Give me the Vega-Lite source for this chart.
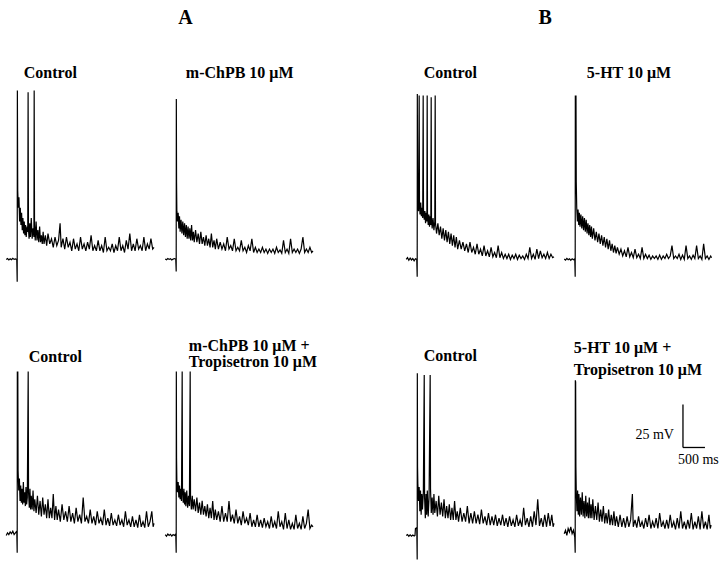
{
  "$schema": "https://vega.github.io/schema/vega-lite/v6.json",
  "background": "white",
  "padding": {"left": 3, "top": 8, "right": 0, "bottom": 0},
  "config": {
    "view": {"stroke": null},
    "title": {"font": "Liberation Serif", "fontWeight": "bold", "color": "#000", "fontSize": 16, "anchor": "start", "baseline": "alphabetic"},
    "line": {"color": "#000", "strokeWidth": 1.2}
  },
  "datasets": {
    "a1": [{"t":-250,"v":0},{"t":-220,"v":0.5},{"t":-190,"v":-0.3},{"t":-160,"v":0.4},{"t":-130,"v":-0.2},{"t":-100,"v":0.6},{"t":-70,"v":0},{"t":-40,"v":0.3},{"t":-10,"v":0},{"t":0,"v":-13},{"t":4,"v":98},{"t":12,"v":40},{"t":25,"v":30},{"t":40,"v":36},{"t":55,"v":22},{"t":70,"v":30},{"t":85,"v":20},{"t":100,"v":27},{"t":115,"v":17},{"t":130,"v":24},{"t":145,"v":15},{"t":160,"v":22},{"t":175,"v":14},{"t":190,"v":20},{"t":205,"v":13},{"t":225,"v":19},{"t":240,"v":16},{"t":248,"v":97},{"t":256,"v":18},{"t":270,"v":12},{"t":285,"v":21},{"t":300,"v":13},{"t":320,"v":24},{"t":340,"v":12},{"t":360,"v":18},{"t":380,"v":13},{"t":386,"v":98},{"t":394,"v":20},{"t":410,"v":11},{"t":430,"v":22},{"t":450,"v":11},{"t":470,"v":17},{"t":490,"v":10},{"t":510,"v":19},{"t":530,"v":10},{"t":550,"v":14},{"t":570,"v":9},{"t":590,"v":16},{"t":610,"v":9},{"t":640,"v":14},{"t":670,"v":8},{"t":700,"v":15},{"t":740,"v":9},{"t":780,"v":12},{"t":820,"v":7},{"t":860,"v":13},{"t":900,"v":8},{"t":940,"v":11},{"t":975,"v":21},{"t":1000,"v":7},{"t":1040,"v":12},{"t":1080,"v":6},{"t":1120,"v":13},{"t":1160,"v":7},{"t":1200,"v":10},{"t":1240,"v":5},{"t":1280,"v":12},{"t":1320,"v":6},{"t":1360,"v":9},{"t":1400,"v":5},{"t":1440,"v":13},{"t":1480,"v":6},{"t":1520,"v":9},{"t":1560,"v":5},{"t":1600,"v":10},{"t":1640,"v":6},{"t":1680,"v":14},{"t":1720,"v":5},{"t":1760,"v":8},{"t":1800,"v":5},{"t":1840,"v":11},{"t":1880,"v":5},{"t":1920,"v":8},{"t":1960,"v":4},{"t":2000,"v":13},{"t":2040,"v":5},{"t":2080,"v":7},{"t":2120,"v":5},{"t":2160,"v":9},{"t":2200,"v":4},{"t":2240,"v":8},{"t":2280,"v":5},{"t":2320,"v":13},{"t":2360,"v":5},{"t":2400,"v":8},{"t":2440,"v":4},{"t":2480,"v":11},{"t":2520,"v":6},{"t":2560,"v":15},{"t":2600,"v":5},{"t":2640,"v":9},{"t":2680,"v":5},{"t":2720,"v":12},{"t":2760,"v":6},{"t":2800,"v":8},{"t":2840,"v":5},{"t":2880,"v":13},{"t":2920,"v":5},{"t":2960,"v":9},{"t":3000,"v":6},{"t":3040,"v":12},{"t":3080,"v":6},{"t":3110,"v":7}],
    "a2": [{"t":-250,"v":0.3},{"t":-220,"v":-0.2},{"t":-190,"v":0.5},{"t":-160,"v":0},{"t":-130,"v":0.4},{"t":-100,"v":-0.3},{"t":-70,"v":0.2},{"t":-40,"v":0.5},{"t":-10,"v":0.1},{"t":0,"v":-7},{"t":3,"v":93},{"t":8,"v":45},{"t":15,"v":28},{"t":30,"v":22},{"t":45,"v":27},{"t":60,"v":18},{"t":75,"v":25},{"t":90,"v":16},{"t":110,"v":23},{"t":130,"v":15},{"t":150,"v":22},{"t":170,"v":14},{"t":190,"v":21},{"t":210,"v":13},{"t":230,"v":20},{"t":250,"v":12},{"t":270,"v":19},{"t":290,"v":12},{"t":310,"v":18},{"t":330,"v":11},{"t":350,"v":20},{"t":370,"v":11},{"t":390,"v":16},{"t":410,"v":10},{"t":440,"v":17},{"t":470,"v":10},{"t":500,"v":15},{"t":530,"v":9},{"t":560,"v":16},{"t":590,"v":9},{"t":620,"v":13},{"t":650,"v":8},{"t":680,"v":14},{"t":710,"v":8},{"t":740,"v":12},{"t":770,"v":7},{"t":800,"v":15},{"t":830,"v":7},{"t":860,"v":11},{"t":890,"v":6},{"t":920,"v":12},{"t":960,"v":6},{"t":1000,"v":10},{"t":1040,"v":6},{"t":1080,"v":9},{"t":1120,"v":5},{"t":1160,"v":13},{"t":1200,"v":6},{"t":1240,"v":8},{"t":1280,"v":5},{"t":1320,"v":12},{"t":1360,"v":5},{"t":1400,"v":7},{"t":1440,"v":5},{"t":1480,"v":11},{"t":1520,"v":5},{"t":1560,"v":7},{"t":1600,"v":4},{"t":1640,"v":8},{"t":1680,"v":5},{"t":1720,"v":12},{"t":1760,"v":4},{"t":1800,"v":7},{"t":1840,"v":4},{"t":1880,"v":6},{"t":1920,"v":4},{"t":1960,"v":7},{"t":2000,"v":4},{"t":2040,"v":6},{"t":2080,"v":3.5},{"t":2120,"v":6},{"t":2160,"v":4},{"t":2200,"v":6},{"t":2240,"v":3.5},{"t":2280,"v":7},{"t":2320,"v":4},{"t":2360,"v":5.5},{"t":2400,"v":3.5},{"t":2440,"v":11},{"t":2480,"v":4},{"t":2520,"v":6},{"t":2560,"v":3.5},{"t":2600,"v":12},{"t":2640,"v":4},{"t":2680,"v":6},{"t":2720,"v":4},{"t":2760,"v":6},{"t":2800,"v":3.5},{"t":2840,"v":6},{"t":2880,"v":13},{"t":2920,"v":4},{"t":2960,"v":6},{"t":3000,"v":4},{"t":3040,"v":7},{"t":3080,"v":4},{"t":3110,"v":5}],
    "a3": [{"t":-250,"v":0},{"t":-220,"v":1},{"t":-190,"v":-0.5},{"t":-160,"v":0.8},{"t":-130,"v":-0.3},{"t":-100,"v":0.5},{"t":-70,"v":-0.8},{"t":-40,"v":0.4},{"t":-10,"v":0},{"t":0,"v":-10},{"t":3,"v":96},{"t":8,"v":40},{"t":20,"v":34},{"t":30,"v":28},{"t":45,"v":95},{"t":52,"v":32},{"t":65,"v":26},{"t":80,"v":33},{"t":95,"v":25},{"t":110,"v":30},{"t":125,"v":24},{"t":136,"v":95},{"t":143,"v":29},{"t":160,"v":23},{"t":175,"v":28},{"t":190,"v":21},{"t":205,"v":27},{"t":220,"v":22},{"t":227,"v":95},{"t":234,"v":27},{"t":250,"v":20},{"t":265,"v":26},{"t":280,"v":19},{"t":295,"v":25},{"t":310,"v":20},{"t":318,"v":94},{"t":325,"v":24},{"t":340,"v":18},{"t":360,"v":24},{"t":380,"v":17},{"t":400,"v":22},{"t":409,"v":95},{"t":416,"v":21},{"t":440,"v":15},{"t":470,"v":21},{"t":500,"v":14},{"t":530,"v":19},{"t":560,"v":12},{"t":590,"v":18},{"t":620,"v":11},{"t":650,"v":17},{"t":680,"v":10},{"t":710,"v":16},{"t":740,"v":9},{"t":770,"v":15},{"t":800,"v":8},{"t":830,"v":14},{"t":860,"v":7},{"t":890,"v":13},{"t":920,"v":6},{"t":960,"v":11},{"t":1000,"v":6},{"t":1040,"v":10},{"t":1080,"v":5},{"t":1120,"v":9},{"t":1160,"v":4},{"t":1200,"v":10},{"t":1240,"v":4},{"t":1280,"v":7},{"t":1320,"v":3},{"t":1360,"v":9},{"t":1400,"v":3},{"t":1440,"v":6},{"t":1480,"v":2},{"t":1520,"v":8},{"t":1560,"v":2},{"t":1600,"v":5},{"t":1640,"v":1.5},{"t":1680,"v":7},{"t":1720,"v":1.5},{"t":1760,"v":4},{"t":1800,"v":1},{"t":1840,"v":8},{"t":1880,"v":1},{"t":1920,"v":4},{"t":1960,"v":0.5},{"t":2000,"v":3},{"t":2040,"v":0.5},{"t":2080,"v":3},{"t":2120,"v":0},{"t":2160,"v":2.5},{"t":2200,"v":0.5},{"t":2240,"v":3},{"t":2280,"v":0},{"t":2320,"v":2.5},{"t":2360,"v":0.5},{"t":2400,"v":2},{"t":2440,"v":0},{"t":2480,"v":3},{"t":2520,"v":0.5},{"t":2560,"v":7},{"t":2600,"v":0.5},{"t":2640,"v":3},{"t":2680,"v":0},{"t":2720,"v":6},{"t":2760,"v":0.5},{"t":2800,"v":5},{"t":2840,"v":1},{"t":2880,"v":3},{"t":2920,"v":0.5},{"t":2960,"v":4},{"t":3000,"v":0.5},{"t":3040,"v":3},{"t":3080,"v":1},{"t":3110,"v":1.5}],
    "a4": [{"t":-250,"v":0.2},{"t":-220,"v":-0.4},{"t":-190,"v":0.6},{"t":-160,"v":-0.2},{"t":-130,"v":0.3},{"t":-100,"v":-0.5},{"t":-70,"v":0.4},{"t":-40,"v":-0.2},{"t":-10,"v":0.3},{"t":0,"v":-10},{"t":3,"v":95},{"t":10,"v":94},{"t":18,"v":95},{"t":24,"v":45},{"t":35,"v":30},{"t":50,"v":22},{"t":65,"v":29},{"t":80,"v":20},{"t":95,"v":27},{"t":110,"v":19},{"t":130,"v":26},{"t":150,"v":18},{"t":170,"v":25},{"t":190,"v":17},{"t":210,"v":24},{"t":230,"v":16},{"t":250,"v":23},{"t":270,"v":15},{"t":290,"v":21},{"t":310,"v":14},{"t":330,"v":20},{"t":350,"v":13},{"t":370,"v":19},{"t":390,"v":12},{"t":420,"v":18},{"t":450,"v":11},{"t":480,"v":16},{"t":510,"v":10},{"t":540,"v":15},{"t":570,"v":9},{"t":600,"v":14},{"t":630,"v":8},{"t":660,"v":13},{"t":690,"v":7},{"t":720,"v":12},{"t":750,"v":6},{"t":780,"v":11},{"t":810,"v":5},{"t":840,"v":9},{"t":870,"v":4},{"t":900,"v":8},{"t":930,"v":3.5},{"t":960,"v":7},{"t":1000,"v":3},{"t":1040,"v":6},{"t":1080,"v":2},{"t":1120,"v":5},{"t":1160,"v":1.5},{"t":1200,"v":7},{"t":1240,"v":1.5},{"t":1280,"v":4},{"t":1320,"v":1},{"t":1360,"v":6},{"t":1400,"v":1},{"t":1440,"v":3},{"t":1480,"v":0.5},{"t":1520,"v":7},{"t":1560,"v":0.5},{"t":1600,"v":3},{"t":1640,"v":0.5},{"t":1680,"v":2.5},{"t":1720,"v":0},{"t":1760,"v":2},{"t":1800,"v":0.5},{"t":1840,"v":2},{"t":1880,"v":0},{"t":1920,"v":2.5},{"t":1960,"v":0},{"t":2000,"v":2},{"t":2040,"v":0.5},{"t":2080,"v":3},{"t":2120,"v":0.5},{"t":2160,"v":2},{"t":2200,"v":8},{"t":2240,"v":0.5},{"t":2280,"v":2},{"t":2320,"v":0.5},{"t":2360,"v":3},{"t":2400,"v":0},{"t":2440,"v":2.5},{"t":2480,"v":0},{"t":2520,"v":8},{"t":2560,"v":0.5},{"t":2600,"v":2},{"t":2640,"v":0},{"t":2680,"v":2.5},{"t":2720,"v":0.5},{"t":2760,"v":8},{"t":2800,"v":0.5},{"t":2840,"v":2},{"t":2880,"v":0},{"t":2920,"v":9},{"t":2960,"v":0.5},{"t":3000,"v":2},{"t":3040,"v":0},{"t":3080,"v":2},{"t":3100,"v":1}],
    "a5": [{"t":-250,"v":0},{"t":-220,"v":1.5},{"t":-190,"v":0.5},{"t":-160,"v":2},{"t":-130,"v":1},{"t":-100,"v":2.5},{"t":-70,"v":0.5},{"t":-40,"v":1.5},{"t":-10,"v":2.5},{"t":0,"v":-10},{"t":3,"v":95},{"t":8,"v":40},{"t":14,"v":95},{"t":20,"v":38},{"t":35,"v":26},{"t":50,"v":33},{"t":65,"v":20},{"t":80,"v":29},{"t":95,"v":19},{"t":110,"v":27},{"t":125,"v":18},{"t":140,"v":31},{"t":155,"v":19},{"t":170,"v":25},{"t":185,"v":17},{"t":200,"v":28},{"t":215,"v":18},{"t":230,"v":22},{"t":250,"v":95},{"t":258,"v":25},{"t":275,"v":16},{"t":290,"v":27},{"t":305,"v":15},{"t":320,"v":23},{"t":340,"v":15},{"t":360,"v":26},{"t":380,"v":14},{"t":400,"v":21},{"t":430,"v":13},{"t":460,"v":23},{"t":490,"v":12},{"t":520,"v":20},{"t":550,"v":11},{"t":580,"v":22},{"t":610,"v":12},{"t":640,"v":18},{"t":670,"v":10},{"t":700,"v":21},{"t":730,"v":10},{"t":760,"v":16},{"t":790,"v":10},{"t":820,"v":24},{"t":850,"v":9},{"t":880,"v":17},{"t":910,"v":9},{"t":940,"v":15},{"t":980,"v":8},{"t":1020,"v":18},{"t":1060,"v":9},{"t":1100,"v":14},{"t":1140,"v":8},{"t":1180,"v":17},{"t":1220,"v":8},{"t":1260,"v":13},{"t":1300,"v":7},{"t":1340,"v":16},{"t":1380,"v":8},{"t":1420,"v":12},{"t":1460,"v":7},{"t":1500,"v":22},{"t":1540,"v":8},{"t":1580,"v":11},{"t":1620,"v":7},{"t":1660,"v":15},{"t":1700,"v":7},{"t":1740,"v":11},{"t":1780,"v":6},{"t":1820,"v":14},{"t":1860,"v":7},{"t":1900,"v":10},{"t":1940,"v":6},{"t":1980,"v":15},{"t":2020,"v":6},{"t":2060,"v":10},{"t":2100,"v":5.5},{"t":2140,"v":13},{"t":2180,"v":6},{"t":2220,"v":9},{"t":2260,"v":5.5},{"t":2300,"v":12},{"t":2340,"v":6},{"t":2380,"v":9},{"t":2420,"v":5},{"t":2460,"v":14},{"t":2500,"v":6},{"t":2540,"v":9},{"t":2580,"v":5},{"t":2620,"v":11},{"t":2660,"v":5},{"t":2700,"v":9},{"t":2740,"v":4.5},{"t":2780,"v":12},{"t":2820,"v":5},{"t":2860,"v":8},{"t":2900,"v":4.5},{"t":2940,"v":14},{"t":2980,"v":5},{"t":3020,"v":8},{"t":3060,"v":14},{"t":3090,"v":5},{"t":3110,"v":7}],
    "a6": [{"t":-250,"v":0.5},{"t":-220,"v":-0.5},{"t":-190,"v":0.8},{"t":-160,"v":0},{"t":-130,"v":0.6},{"t":-100,"v":-0.4},{"t":-70,"v":0.5},{"t":-40,"v":0},{"t":-10,"v":0.8},{"t":0,"v":-10},{"t":3,"v":95},{"t":8,"v":45},{"t":15,"v":32},{"t":30,"v":25},{"t":45,"v":31},{"t":60,"v":22},{"t":75,"v":29},{"t":90,"v":21},{"t":105,"v":27},{"t":120,"v":20},{"t":136,"v":95},{"t":143,"v":26},{"t":160,"v":19},{"t":175,"v":27},{"t":190,"v":18},{"t":205,"v":25},{"t":220,"v":17},{"t":240,"v":26},{"t":260,"v":16},{"t":280,"v":23},{"t":300,"v":17},{"t":318,"v":95},{"t":326,"v":22},{"t":345,"v":15},{"t":365,"v":23},{"t":385,"v":15},{"t":410,"v":21},{"t":440,"v":14},{"t":470,"v":22},{"t":500,"v":13},{"t":530,"v":19},{"t":560,"v":12},{"t":590,"v":20},{"t":620,"v":12},{"t":650,"v":17},{"t":680,"v":11},{"t":710,"v":18},{"t":740,"v":10},{"t":770,"v":16},{"t":800,"v":10},{"t":830,"v":20},{"t":860,"v":9},{"t":890,"v":15},{"t":920,"v":9},{"t":960,"v":14},{"t":1000,"v":8},{"t":1040,"v":17},{"t":1080,"v":8},{"t":1120,"v":13},{"t":1160,"v":8},{"t":1200,"v":20},{"t":1240,"v":8},{"t":1280,"v":12},{"t":1320,"v":7},{"t":1360,"v":15},{"t":1400,"v":7},{"t":1440,"v":11},{"t":1480,"v":6},{"t":1520,"v":14},{"t":1560,"v":7},{"t":1600,"v":10},{"t":1640,"v":6},{"t":1680,"v":13},{"t":1720,"v":5},{"t":1760,"v":9},{"t":1800,"v":5},{"t":1840,"v":12},{"t":1880,"v":5},{"t":1920,"v":9},{"t":1960,"v":4.5},{"t":2000,"v":10},{"t":2040,"v":5},{"t":2080,"v":8},{"t":2120,"v":4},{"t":2160,"v":11},{"t":2200,"v":4.5},{"t":2240,"v":8},{"t":2280,"v":4},{"t":2320,"v":14},{"t":2360,"v":5},{"t":2400,"v":8},{"t":2440,"v":3.5},{"t":2480,"v":13},{"t":2520,"v":4},{"t":2560,"v":9},{"t":2600,"v":3.5},{"t":2640,"v":7},{"t":2680,"v":3.5},{"t":2720,"v":12},{"t":2760,"v":4},{"t":2800,"v":7},{"t":2840,"v":3.5},{"t":2880,"v":11},{"t":2920,"v":4},{"t":2960,"v":7},{"t":3000,"v":15},{"t":3040,"v":4},{"t":3080,"v":6},{"t":3110,"v":5}],
    "a7": [{"t":-250,"v":0},{"t":-220,"v":0.5},{"t":-190,"v":-0.5},{"t":-160,"v":0.3},{"t":-130,"v":-0.4},{"t":-100,"v":0.2},{"t":-70,"v":-0.3},{"t":-50,"v":0},{"t":-40,"v":4},{"t":-10,"v":4.5},{"t":0,"v":-14},{"t":3,"v":94},{"t":8,"v":40},{"t":15,"v":30},{"t":30,"v":20},{"t":45,"v":28},{"t":60,"v":14},{"t":75,"v":26},{"t":90,"v":12},{"t":105,"v":24},{"t":120,"v":15},{"t":140,"v":25},{"t":160,"v":93},{"t":168,"v":22},{"t":185,"v":10},{"t":200,"v":24},{"t":215,"v":12},{"t":230,"v":26},{"t":250,"v":11},{"t":270,"v":22},{"t":295,"v":93},{"t":303,"v":27},{"t":320,"v":13},{"t":340,"v":22},{"t":360,"v":12},{"t":380,"v":24},{"t":400,"v":13},{"t":430,"v":20},{"t":460,"v":11},{"t":490,"v":23},{"t":520,"v":12},{"t":550,"v":19},{"t":580,"v":11},{"t":610,"v":21},{"t":640,"v":10},{"t":670,"v":17},{"t":700,"v":10},{"t":730,"v":18},{"t":760,"v":9},{"t":790,"v":16},{"t":820,"v":9},{"t":850,"v":20},{"t":880,"v":9},{"t":910,"v":14},{"t":940,"v":8},{"t":980,"v":16},{"t":1020,"v":8},{"t":1060,"v":13},{"t":1100,"v":8},{"t":1140,"v":17},{"t":1180,"v":7},{"t":1220,"v":13},{"t":1260,"v":7},{"t":1300,"v":14},{"t":1340,"v":7},{"t":1380,"v":12},{"t":1420,"v":6.5},{"t":1460,"v":15},{"t":1500,"v":7},{"t":1540,"v":11},{"t":1580,"v":6},{"t":1620,"v":13},{"t":1660,"v":6},{"t":1700,"v":11},{"t":1740,"v":6},{"t":1780,"v":12},{"t":1820,"v":5.5},{"t":1860,"v":10},{"t":1900,"v":6},{"t":1940,"v":12},{"t":1980,"v":5.5},{"t":2020,"v":10},{"t":2060,"v":5},{"t":2100,"v":11},{"t":2140,"v":5.5},{"t":2180,"v":9},{"t":2220,"v":5},{"t":2260,"v":12},{"t":2300,"v":5.5},{"t":2340,"v":9},{"t":2380,"v":5},{"t":2420,"v":16},{"t":2460,"v":6},{"t":2500,"v":10},{"t":2540,"v":5},{"t":2580,"v":11},{"t":2620,"v":5},{"t":2660,"v":14},{"t":2700,"v":6},{"t":2740,"v":21},{"t":2780,"v":5.5},{"t":2820,"v":10},{"t":2860,"v":5},{"t":2900,"v":12},{"t":2940,"v":5},{"t":2980,"v":13},{"t":3020,"v":5.5},{"t":3060,"v":12},{"t":3090,"v":5},{"t":3110,"v":7}],
    "a8": [{"t":-250,"v":1},{"t":-220,"v":3},{"t":-190,"v":0},{"t":-160,"v":4},{"t":-130,"v":2},{"t":-100,"v":5},{"t":-70,"v":1},{"t":-40,"v":3},{"t":-10,"v":-1},{"t":0,"v":-10},{"t":3,"v":90},{"t":10,"v":89},{"t":16,"v":40},{"t":25,"v":24},{"t":40,"v":14},{"t":55,"v":26},{"t":70,"v":12},{"t":85,"v":24},{"t":100,"v":11},{"t":120,"v":22},{"t":140,"v":12},{"t":160,"v":25},{"t":180,"v":11},{"t":200,"v":20},{"t":220,"v":10},{"t":240,"v":23},{"t":260,"v":11},{"t":280,"v":19},{"t":300,"v":10},{"t":320,"v":22},{"t":340,"v":10},{"t":360,"v":18},{"t":380,"v":10},{"t":400,"v":21},{"t":430,"v":9},{"t":460,"v":17},{"t":490,"v":9},{"t":520,"v":19},{"t":550,"v":8},{"t":580,"v":15},{"t":610,"v":8},{"t":640,"v":17},{"t":670,"v":7},{"t":700,"v":13},{"t":730,"v":7},{"t":760,"v":15},{"t":790,"v":6},{"t":820,"v":12},{"t":850,"v":6},{"t":880,"v":14},{"t":910,"v":5.5},{"t":940,"v":11},{"t":980,"v":5},{"t":1020,"v":12},{"t":1060,"v":5},{"t":1100,"v":10},{"t":1140,"v":4.5},{"t":1180,"v":11},{"t":1220,"v":5},{"t":1260,"v":9},{"t":1300,"v":24},{"t":1320,"v":5},{"t":1360,"v":9},{"t":1400,"v":4.5},{"t":1440,"v":11},{"t":1480,"v":5},{"t":1520,"v":8},{"t":1560,"v":4},{"t":1600,"v":10},{"t":1640,"v":5},{"t":1680,"v":12},{"t":1720,"v":4},{"t":1760,"v":8},{"t":1800,"v":4.5},{"t":1840,"v":10},{"t":1880,"v":4},{"t":1920,"v":13},{"t":1960,"v":5},{"t":2000,"v":8},{"t":2040,"v":4},{"t":2080,"v":9},{"t":2120,"v":4},{"t":2160,"v":12},{"t":2200,"v":4.5},{"t":2240,"v":8},{"t":2280,"v":3.5},{"t":2320,"v":10},{"t":2360,"v":4},{"t":2400,"v":14},{"t":2440,"v":4},{"t":2480,"v":8},{"t":2520,"v":3.5},{"t":2560,"v":9},{"t":2600,"v":4},{"t":2640,"v":13},{"t":2680,"v":3.5},{"t":2720,"v":8},{"t":2760,"v":4},{"t":2800,"v":11},{"t":2840,"v":3.5},{"t":2880,"v":14},{"t":2920,"v":4},{"t":2960,"v":8},{"t":3000,"v":3.5},{"t":3040,"v":12},{"t":3070,"v":4},{"t":3090,"v":6}]
  },
  "spacing": 86,
  "hconcat": [
    {
      "title": {"text": "A", "fontSize": 20, "anchor": "middle", "dx": 25, "offset": 36.5},
      "columns": 2,
      "bounds": "flush",
      "spacing": {"row": 76, "column": 9},
      "concat": [
        {"width": 150, "height": 200, "data": {"name": "a1"}, "title": {"text": "Control", "dx": 20, "offset": 6.5},
         "mark": "line", "encoding": {"x": {"field": "t", "type": "quantitative", "scale": {"domain": [-300, 3110], "nice": false, "zero": false}, "axis": null}, "y": {"field": "v", "type": "quantitative", "scale": {"domain": [-16, 100], "nice": false, "zero": false}, "axis": null}}},
        {"width": 150, "height": 200, "data": {"name": "a2"}, "title": {"text": "m-ChPB 10 μM", "dx": 23, "offset": 6.5},
         "mark": "line", "encoding": {"x": {"field": "t", "type": "quantitative", "scale": {"domain": [-300, 3110], "nice": false, "zero": false}, "axis": null}, "y": {"field": "v", "type": "quantitative", "scale": {"domain": [-16, 100], "nice": false, "zero": false}, "axis": null}}},
        {"width": 150, "height": 200, "data": {"name": "a5"}, "title": {"text": "Control", "dx": 25, "offset": -1.5},
         "mark": "line", "encoding": {"x": {"field": "t", "type": "quantitative", "scale": {"domain": [-300, 3110], "nice": false, "zero": false}, "axis": null}, "y": {"field": "v", "type": "quantitative", "scale": {"domain": [-16, 100], "nice": false, "zero": false}, "axis": null}}},
        {"width": 150, "height": 200, "data": {"name": "a6"}, "title": {"text": ["m-ChPB 10 μM +", "Tropisetron 10 μM"], "dx": 26, "offset": -6.5, "lineHeight": 16},
         "mark": "line", "encoding": {"x": {"field": "t", "type": "quantitative", "scale": {"domain": [-300, 3110], "nice": false, "zero": false}, "axis": null}, "y": {"field": "v", "type": "quantitative", "scale": {"domain": [-16, 100], "nice": false, "zero": false}, "axis": null}}}
      ]
    },
    {
      "title": {"text": "B", "fontSize": 20, "anchor": "middle", "dx": -16, "offset": 36.5},
      "columns": 2,
      "bounds": "flush",
      "spacing": {"row": 76, "column": 8},
      "concat": [
        {"width": 150, "height": 200, "data": {"name": "a3"}, "title": {"text": "Control", "dx": 20, "offset": 6.5},
         "mark": "line", "encoding": {"x": {"field": "t", "type": "quantitative", "scale": {"domain": [-300, 3110], "nice": false, "zero": false}, "axis": null}, "y": {"field": "v", "type": "quantitative", "scale": {"domain": [-16, 100], "nice": false, "zero": false}, "axis": null}}},
        {"width": 150, "height": 200, "data": {"name": "a4"}, "title": {"text": "5-HT 10 μM", "dx": 25, "offset": 6.5},
         "mark": "line", "encoding": {"x": {"field": "t", "type": "quantitative", "scale": {"domain": [-300, 3110], "nice": false, "zero": false}, "axis": null}, "y": {"field": "v", "type": "quantitative", "scale": {"domain": [-16, 100], "nice": false, "zero": false}, "axis": null}}},
        {"width": 150, "height": 200, "data": {"name": "a7"}, "title": {"text": "Control", "dx": 20, "offset": -0.5},
         "mark": "line", "encoding": {"x": {"field": "t", "type": "quantitative", "scale": {"domain": [-300, 3110], "nice": false, "zero": false}, "axis": null}, "y": {"field": "v", "type": "quantitative", "scale": {"domain": [-16, 100], "nice": false, "zero": false}, "axis": null}}},
        {"width": 150, "height": 200, "title": {"text": ["5-HT 10 μM +", "Tropisetron 10 μM"], "dx": 12, "offset": -14.5, "lineHeight": 22},
         "encoding": {"x": {"field": "t", "type": "quantitative", "scale": {"domain": [-300, 3110], "nice": false, "zero": false}, "axis": null}, "y": {"field": "v", "type": "quantitative", "scale": {"domain": [-16, 100], "nice": false, "zero": false}, "axis": null}},
         "layer": [
           {"data": {"name": "a8"}, "mark": "line"},
           {"data": {"values": [{"t": 2450, "v": 51, "v2": 76}]}, "mark": {"type": "rule", "color": "#000", "strokeWidth": 1.3}, "encoding": {"y2": {"field": "v2"}}},
           {"data": {"values": [{"t": 2450, "t2": 2950, "v": 51}]}, "mark": {"type": "rule", "color": "#000", "strokeWidth": 1.3}, "encoding": {"x2": {"field": "t2"}}},
           {"data": {"values": [{"t": 2245, "v": 58.2, "label": "25 mV"}]}, "mark": {"type": "text", "align": "right", "baseline": "middle", "font": "Liberation Serif", "fontSize": 14, "color": "#000"}, "encoding": {"text": {"field": "label"}}},
           {"data": {"values": [{"t": 2336, "v": 43.7, "label": "500 ms"}]}, "mark": {"type": "text", "align": "left", "baseline": "middle", "font": "Liberation Serif", "fontSize": 14, "color": "#000"}, "encoding": {"text": {"field": "label"}}}
         ]}
      ]
    }
  ]
}
